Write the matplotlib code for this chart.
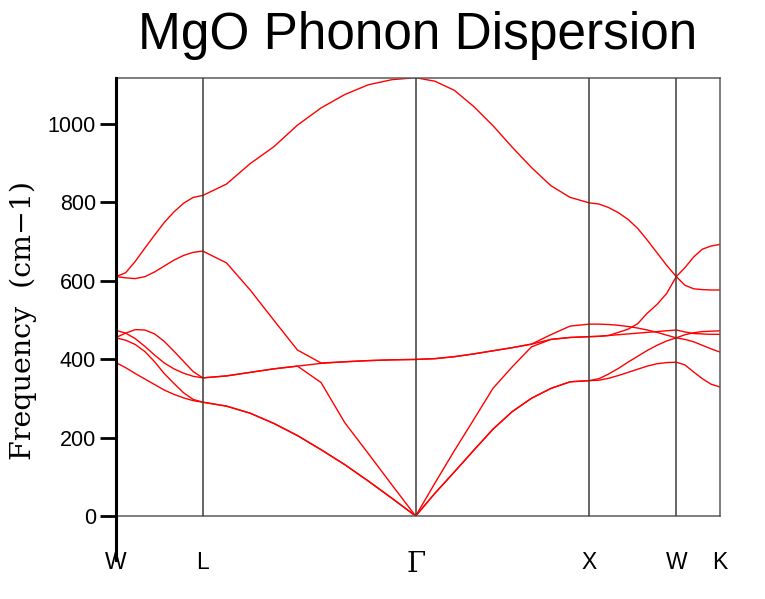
import numpy as np
import matplotlib
matplotlib.use("Agg")
import matplotlib.pyplot as plt
from matplotlib.lines import Line2D

# ---------------- data ----------------
point_labels = ["W", "L", "Γ", "X", "W", "K"]
point_pos = [0.0, 0.5, 1.7247, 2.7247, 3.2247, 3.4747]
seg_samples = [10, 10, 10, 10, 6]          # q-points per segment W-L, L-Γ, Γ-X, X-W, W-K
y_ticks = [0, 200, 400, 600, 800, 1000]

# frequencies (cm-1), segments concatenated: W-L | L-Γ | Γ-X | X-W | W-K
band1 = [391, 378, 363, 349, 335, 321, 310, 301, 294, 290,
         290, 280, 262, 236, 205, 169, 131, 89, 45, 0,
         0, 58, 112, 167, 221, 266, 300, 325, 342, 345,
         345, 346, 351, 358, 366, 374, 382, 388, 391, 392,
         392, 385, 367, 350, 336, 329]
band2 = [454, 448, 437, 419, 393, 363, 338, 314, 297, 290,
         290, 280, 262, 236, 205, 169, 131, 89, 45, 0,
         0, 58, 112, 167, 221, 266, 300, 325, 342, 345,
         345, 350, 362, 376, 392, 407, 422, 435, 446, 454,
         454, 462, 467, 470, 471, 472]
band3 = [473, 466, 452, 432, 410, 390, 375, 364, 356, 352,
         352, 357, 366, 375, 382, 340, 238, 159, 79, 0,
         0, 84, 166, 245, 325, 380, 431, 450, 455, 457,
         457, 458, 460, 462, 464, 466, 468, 470, 472, 474,
         474, 469, 465, 464, 463, 463]
band4 = [455, 466, 475, 474, 464, 445, 420, 394, 368, 352,
         352, 357, 366, 375, 382, 389, 393, 396, 398, 399,
         399, 401, 406, 413, 421, 429, 438, 450, 455, 457,
         457, 458, 460, 468, 476, 490, 517, 539, 567, 610,
         610, 633, 660, 680, 688, 692]
band5 = [610, 607, 605, 610, 622, 637, 652, 664, 672, 675,
         675, 645, 576, 499, 423, 390, 393, 396, 398, 399,
         399, 401, 406, 413, 421, 429, 438, 462, 484, 489,
         489, 489, 488, 486, 483, 479, 474, 468, 461, 454,
         454, 450, 444, 435, 426, 418]
band6 = [610, 620, 649, 683, 716, 748, 775, 797, 812, 817,
         817, 846, 898, 941, 996, 1040, 1074, 1099, 1112, 1117,
         1117, 1108, 1085, 1044, 995, 940, 888, 842, 812, 798,
         798, 795, 786, 773, 756, 733, 703, 671, 639, 610,
         610, 588, 579, 577, 576, 576]
bands = [band1, band2, band3, band4, band5, band6]

# ---------------- plot ----------------
plt.rcParams["font.family"] = ["Liberation Sans", "DejaVu Sans"]

W, H = 765, 599
fig = plt.figure(figsize=(W / 100, H / 100), dpi=100)
left_px, right_px, top_px, bottom_px = 116, 719.7, 77.7, 516
ax = fig.add_axes([left_px / W, 1 - bottom_px / H,
                   (right_px - left_px) / W, (bottom_px - top_px) / H])

kpath = np.concatenate([np.linspace(point_pos[i], point_pos[i + 1], n)
                        for i, n in enumerate(seg_samples)])

for b in bands:
    ax.plot(kpath, b, color="red", lw=1.0, solid_joinstyle="round")

for p in point_pos[1:-1]:
    ax.axvline(p, color="#3c3c3c", lw=1.1, zorder=3)

ax.set_xlim(point_pos[0], point_pos[-1])
ax.set_ylim(0, max(band6))

for s in ["top", "right", "bottom"]:
    ax.spines[s].set_color("#5a5a5a")
    ax.spines[s].set_linewidth(1.1)
ax.spines["left"].set_visible(False)
ax.add_line(Line2D([0, 0], [-44 / (bottom_px - top_px), 1], transform=ax.transAxes,
                   color="black", lw=2.2, clip_on=False, zorder=5))

ax.set_yticks(y_ticks)
ax.tick_params(axis="y", direction="out", length=11.5, width=2.0, pad=3,
               labelsize=15.5, color="black")
ax.set_xticks(point_pos)
ax.set_xticklabels(point_labels)
ax.tick_params(axis="x", length=0, pad=25.5, labelsize=16.5)
for lbl in ax.get_xticklabels():
    if lbl.get_text() == "Γ":
        lbl.set_fontfamily("DejaVu Serif")
        lbl.set_fontsize(20)

fig.text((left_px + right_px) / 2 / W, 1 - 49.5 / H, "MgO Phonon Dispersion",
         ha="center", va="baseline", fontsize=37)
fig.text(23.5 / W, 1 - 321 / H, "Frequency  (cm\u22121)", rotation=90,
         ha="center", va="center", fontsize=20.5, family="DejaVu Serif")

fig.savefig("out.png", dpi=100)
